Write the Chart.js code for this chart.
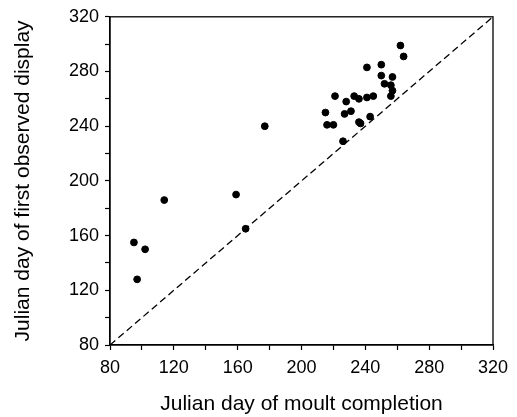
<!DOCTYPE html>
<html>
<head>
<meta charset="utf-8">
<script src="https://cdn.jsdelivr.net/npm/chart.js@4"></script>
<style>
  html, body { margin: 0; padding: 0; background: #fff; }
  #wrap { width: 517px; height: 417px; }
</style>
</head>
<body>
<div id="wrap"><canvas id="scatterChart" width="517" height="417"></canvas></div>
<script>
// Julian day of moult completion (x) vs first observed display (y)
const moultDay = [95, 97, 102, 114, 159, 165, 177, 215, 216, 220, 221, 226, 227, 228, 231, 233,
                  236, 236, 237, 241, 241, 243, 245, 250, 250, 252, 257, 256, 257, 256, 262, 264];
const displayDay = [155, 128, 150, 186, 190, 165, 240, 250, 241, 241, 262, 229, 249, 258, 251, 262,
                    260, 243, 242, 283, 261, 247, 262, 285, 277, 271, 276, 270, 266, 262, 299, 291];
// 1:1 reference line
const diagonal = [80, 320];
const axisTicks = [80, 120, 160, 200, 240, 280, 320];

const points = moultDay.map((x, i) => ({ x: x, y: displayDay[i] }));
const lineData = diagonal.map(v => ({ x: v, y: v }));

// box round the plot area
const frame = {
    id: 'frame',
    afterDraw(chart) {
        const a = chart.chartArea;
        const ctx = chart.ctx;
        ctx.save();
        ctx.strokeStyle = '#000';
        ctx.lineWidth = 1.3;
        ctx.strokeRect(a.left, a.top, a.right - a.left, a.bottom - a.top);
        ctx.restore();
    }
};

const tickLabel = v => axisTicks.includes(v) ? String(v) : '';

const ctx = document.getElementById('scatterChart').getContext('2d');
const chart = new Chart(ctx, {
    type: 'scatter',
    data: {
        datasets: [{
            data: points,
            backgroundColor: '#000',
            borderColor: '#000',
            pointRadius: 3.4,
            pointHoverRadius: 3.4
        }, {
            type: 'line',
            data: lineData,
            borderColor: '#000',
            borderWidth: 1.3,
            borderDash: [7, 4],
            pointRadius: 0,
            fill: false
        }]
    },
    options: {
        responsive: false,
        animation: false,
        plugins: { legend: { display: false }, tooltip: { enabled: false } },
        layout: { padding: { top: 15, right: 24, left: 0, bottom: 0 } },
        scales: {
            x: {
                type: 'linear',
                min: 80,
                max: 320,
                afterFit: s => { s.height = 72; },
                ticks: {
                    stepSize: 20,
                    autoSkip: false,
                    maxRotation: 0,
                    color: '#000',
                    padding: 7,
                    font: { family: 'Liberation Sans', size: 18 },
                    callback: tickLabel
                },
                grid: { drawOnChartArea: false, tickLength: 5, color: '#000', tickWidth: 1.2 },
                border: { color: '#000', width: 1.3 },
                title: {
                    display: true,
                    text: 'Julian day of moult completion',
                    color: '#000',
                    font: { family: 'Liberation Sans', size: 21 },
                    padding: { top: 0, bottom: 0 }
                }
            },
            y: {
                type: 'linear',
                min: 80,
                max: 320,
                afterFit: s => { s.width = 110; },
                ticks: {
                    stepSize: 20,
                    autoSkip: false,
                    color: '#000',
                    padding: 6,
                    font: { family: 'Liberation Sans', size: 18 },
                    callback: tickLabel
                },
                grid: { drawOnChartArea: false, tickLength: 5, color: '#000', tickWidth: 1.2 },
                border: { color: '#000', width: 1.3 },
                title: {
                    display: true,
                    text: 'Julian day of first observed display',
                    color: '#000',
                    font: { family: 'Liberation Sans', size: 21 },
                    padding: { top: 11, bottom: 0 }
                }
            }
        }
    },
    plugins: [frame]
});
</script>
</body>
</html>
